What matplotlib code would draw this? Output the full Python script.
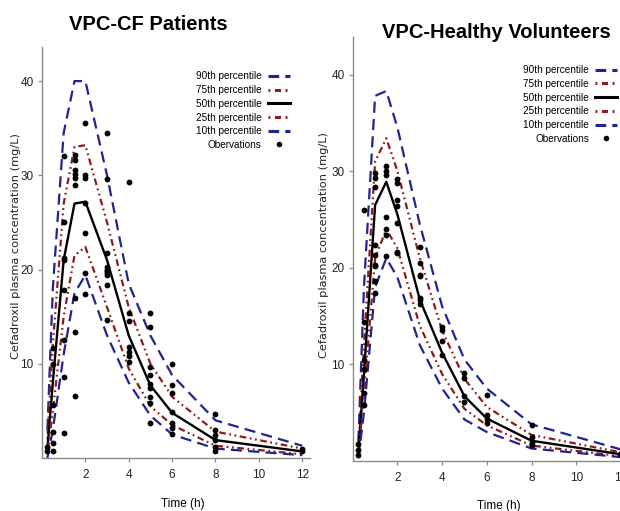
import matplotlib
matplotlib.use("Agg")
import matplotlib.pyplot as plt
from matplotlib.lines import Line2D

NARROW = ['DejaVu Sans Condensed', 'Liberation Sans']

times = [0.25, 0.5, 1, 1.5, 2, 3, 4, 5, 6, 8, 12]

# CF patients - simulated percentiles
cf_p90 = [3, 18, 34.5, 40, 40, 30, 18.5, 13, 8.8, 4, 1.3]
cf_p75 = [2, 12, 27, 33, 33.2, 25, 16, 10, 6.5, 2.8, 1.0]
cf_p50 = [1, 8, 21, 27, 27.2, 21, 13, 7.7, 4.8, 1.9, 0.7]
cf_p25 = [0.4, 5, 15, 21.5, 22.4, 16, 9.5, 5.5, 3.5, 1.3, 0.4]
cf_p10 = [0, 3, 11, 17.5, 19.4, 13, 8, 4.5, 2.5, 1.0, 0.3]

cf_obs_t = [0.25, 0.25, 0.5, 0.5, 0.5, 0.5, 0.5, 0.5,
            1, 1, 1, 1, 1, 1, 1, 1,
            1.5, 1.5, 1.5, 1.5, 1.5, 1.5, 1.5, 1.5, 1.5,
            2, 2, 2, 2, 2, 2, 2,
            3, 3, 3, 3, 3, 3, 3, 3, 3, 3,
            4, 4, 4, 4, 4, 4, 4,
            5, 5, 5, 5, 5, 5, 5, 5, 5,
            6, 6, 6, 6, 6, 6, 6,
            8, 8, 8, 8, 8, 8,
            12, 12]
cf_obs_y = [1.2, 0.7, 11.7, 10.0, 5.6, 2.8, 1.6, 0.7,
            32.0, 25.0, 21.2, 17.8, 12.5, 8.6, 2.7, 21.0,
            32.2, 31.6, 30.6, 30.1, 29.7, 29.0, 17.0, 13.4, 6.6,
            35.6, 30.0, 29.7, 27.1, 23.9, 19.6, 17.4,
            34.5, 29.6, 21.8, 20.3, 19.8, 19.4, 18.4, 14.6, 19.6, 20.0,
            29.3, 15.4, 14.5, 11.8, 11.3, 10.8, 10.2,
            15.4, 13.9, 9.7, 8.8, 7.9, 6.5, 5.8, 3.7, 7.4,
            10.0, 7.7, 6.9, 4.9, 3.7, 3.2, 2.6,
            4.7, 3.0, 2.4, 1.9, 1.2, 0.7,
            1.0, 0.7]

# Healthy volunteers - simulated percentiles
hv_p90 = [2, 18, 37.8, 38.3, 34.5, 24.5, 16, 10.5, 7.5, 3.8, 1.2]
hv_p75 = [1.2, 12, 31, 33.4, 30, 21, 13.5, 8.5, 5.6, 2.7, 0.9]
hv_p50 = [0.8, 9, 26.5, 28.9, 25.5, 16.7, 11.2, 6.7, 4.4, 2.1, 0.7]
hv_p25 = [0.5, 7, 21, 24, 22, 14, 9, 5.4, 3.7, 1.6, 0.5]
hv_p10 = [0.3, 5, 18, 21, 19, 12, 7.5, 4.3, 3.0, 1.3, 0.4]

hv_obs_t = [0.25, 0.25, 0.25,
            0.5, 0.5, 0.5, 0.5, 0.5, 0.5,
            1, 1, 1, 1, 1, 1, 1, 1, 1,
            1.5, 1.5, 1.5, 1.5, 1.5, 1.5, 1.5,
            2, 2, 2, 2, 2, 2, 2,
            3, 3, 3, 3, 3, 3, 3,
            4, 4, 4, 4,
            5, 5, 5, 5,
            6, 6, 6, 6,
            8, 8, 8, 8,
            12, 12]
hv_obs_y = [1.8, 1.1, 0.6,
            26.0, 14.4, 10.5, 9.5, 7.0, 5.8,
            29.8, 29.3, 28.4, 22.4, 21.3, 20.2, 18.6, 17.4, 20.3,
            30.5, 30.0, 29.6, 25.3, 24.0, 23.4, 21.2,
            29.2, 28.8, 27.0, 26.4, 24.6, 21.6, 21.5,
            22.2, 20.5, 19.3, 16.7, 16.3, 19.1, 16.9,
            13.9, 13.6, 12.4, 11.0,
            9.1, 8.6, 6.7, 6.1,
            6.8, 4.8, 4.4, 3.9,
            3.7, 2.5, 2.0, 1.7,
            0.8, 0.6]

labels = ['90th percentile', '75th percentile', '50th percentile',
          '25th percentile', '10th percentile', 'Obervations']

blue = '#23238f'
red = '#8b1c1c'
dash_b = (0, (5, 2.8))
dash_r = (0, (0.8, 1.6, 3, 1.6, 0.8, 1.6))

fig = plt.figure(figsize=(6.2, 5.11), dpi=100)
ax1 = fig.add_axes([0.0677, 0.1037, 0.432, 0.804])
ax2 = fig.add_axes([0.569, 0.0978, 0.445, 0.830])


def panel(ax, p90, p75, p50, p25, p10, ot, oy, ytop, ylab_xy, xlab_xy):
    ax.plot(times, p90, color=blue, lw=1.6, ls=dash_b)
    ax.plot(times, p75, color=red, lw=1.6, ls=dash_r)
    ax.plot(times, p50, color='black', lw=1.7)
    ax.plot(times, p25, color=red, lw=1.6, ls=dash_r)
    ax.plot(times, p10, color=blue, lw=1.6, ls=dash_b)
    ax.plot(ot, oy, 'o', color='black', ms=4.2, mew=0)
    ax.set_xlim(0, 12.35)
    ax.set_ylim(0, ytop)
    ax.set_xticks([2, 4, 6, 8, 10, 12])
    ax.set_yticks([10, 20, 30, 40])
    for s in ['top', 'right']:
        ax.spines[s].set_visible(False)
    for s in ['left', 'bottom']:
        ax.spines[s].set_color('#8a8a8a')
        ax.spines[s].set_linewidth(1.0)
    ax.tick_params(direction='out', length=3, width=0.9, color='#8a8a8a',
                   labelsize=8.5, labelcolor='#222222', pad=3)
    ax.tick_params(axis='x', pad=5)
    for t in ax.get_xticklabels() + ax.get_yticklabels():
        t.set_family(NARROW)
        t.set_stretch('condensed')
    ax.set_xlabel('Time (h)', family=NARROW, stretch='condensed', fontsize=8.5)
    ax.xaxis.set_label_coords(*xlab_xy)
    ax.set_ylabel('Cefadroxil plasma concentration (mg/L)', family='DejaVu Sans',
                  fontsize=8.2, color='#222222')
    ax.yaxis.set_label_coords(*ylab_xy)


panel(ax1, cf_p90, cf_p75, cf_p50, cf_p25, cf_p10, cf_obs_t, cf_obs_y, 43.6,
      (-0.078, 0.516), (0.526, -0.097))
panel(ax2, hv_p90, hv_p75, hv_p50, hv_p25, hv_p10, hv_obs_t, hv_obs_y, 43.9,
      (-0.085, 0.509), (0.529, -0.092))

handles = [Line2D([], [], color=blue, lw=2.2, ls=(0, (3.5, 2))),
           Line2D([], [], color=red, lw=2.2, ls=(0, (0.6, 1.5, 2, 1.5, 0.6, 1.5))),
           Line2D([], [], color='black', lw=2.2),
           Line2D([], [], color=red, lw=2.2, ls=(0, (0.6, 1.5, 2, 1.5, 0.6, 1.5))),
           Line2D([], [], color=blue, lw=2.2, ls=(0, (3.5, 2))),
           Line2D([], [], color='black', marker='o', ls='none', ms=4, mew=0)]

for ax, anchor in [(ax1, (0.475, 0.870)), (ax2, (1.003, 0.882))]:
    ax.legend(handles, labels, loc='upper right', bbox_to_anchor=anchor,
              bbox_transform=fig.transFigure, frameon=False, markerfirst=False,
              handlelength=2.2, handletextpad=0.6, labelspacing=0.37,
              borderpad=0, prop={'family': NARROW, 'stretch': 'condensed',
                                 'size': 7.2})

fig.text(0.239, 0.953, 'VPC-CF Patients', ha='center', va='center',
         family=NARROW, stretch='condensed', weight='bold', fontsize=14.5)
fig.text(0.80, 0.937, 'VPC-Healthy Volunteers', ha='center', va='center',
         family=NARROW, stretch='condensed', weight='bold', fontsize=14.5)

fig.savefig('out.png', dpi=100)
